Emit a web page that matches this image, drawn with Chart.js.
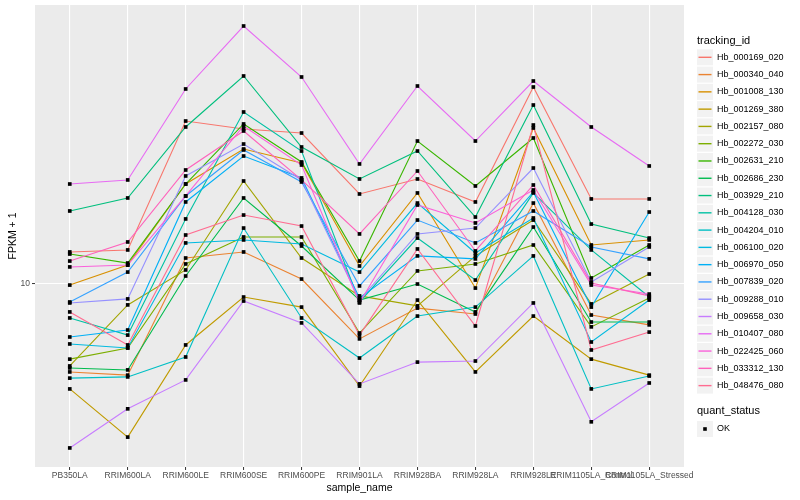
<!DOCTYPE html>
<html>
<head>
<meta charset="utf-8">
<script src="https://cdn.jsdelivr.net/npm/chart.js@4.4.0/dist/chart.umd.min.js"></script>
<style>
  html, body { margin: 0; padding: 0; background: #ffffff; }
  #wrap { width: 800px; height: 500px; }
</style>
</head>
<body>
<div id="wrap"><canvas id="chart" width="800" height="500"></canvas></div>
<script>
// categories and labels
const sampleNames = ['PB350LA', 'RRIM600LA', 'RRIM600LE', 'RRIM600SE', 'RRIM600PE', 'RRIM901LA',
  'RRIM928BA', 'RRIM928LA', 'RRIM928LE', 'RRIM1105LA_Control', 'RRIM1105LA_Stressed'];
const trackingIds = ['Hb_000169_020', 'Hb_000340_040', 'Hb_001008_130', 'Hb_001269_380', 'Hb_002157_080',
  'Hb_002272_030', 'Hb_002631_210', 'Hb_002686_230', 'Hb_003929_210', 'Hb_004128_030', 'Hb_004204_010',
  'Hb_006100_020', 'Hb_006970_050', 'Hb_007839_020', 'Hb_009288_010', 'Hb_009658_030', 'Hb_010407_080',
  'Hb_022425_060', 'Hb_033312_130', 'Hb_048476_080'];
const yTicks = [10];
const quantStatus = ['OK'];

// FPKM + 1 per sample, one array per gene
const hb_000169_020 = [11.99, 12.13, 25.48, 24.34, 23.78, 16.74, 18.25, 15.99, 30.99, 16.27, 16.27];
const hb_000340_040 = [6.01, 5.90, 11.58, 11.99, 10.26, 7.27, 8.68, 8.39, 15.89, 8.34, 7.88];
const hb_001008_130 = [9.91, 11.12, 17.73, 21.69, 20.01, 11.06, 16.84, 9.74, 24.48, 12.48, 12.85];
const hb_001269_380 = [5.45, 4.13, 7.02, 9.25, 8.73, 5.54, 9.09, 6.01, 8.29, 6.47, 5.90];
const hb_002157_080 = [6.22, 8.84, 10.81, 18.04, 11.58, 9.31, 8.79, 11.72, 14.41, 8.89, 10.56];
const hb_002272_030 = [6.47, 6.90, 11.19, 13.07, 13.07, 7.52, 10.75, 11.19, 12.48, 7.79, 9.20];
const hb_002631_210 = [11.85, 11.25, 17.73, 25.05, 20.13, 11.38, 22.71, 17.53, 23.11, 10.32, 12.48];
const hb_002686_230 = [6.15, 6.08, 10.44, 16.36, 12.41, 9.09, 9.97, 8.49, 13.84, 8.01, 8.01];
const hb_003929_210 = [15.18, 16.36, 24.62, 33.02, 21.94, 18.25, 21.44, 14.66, 27.94, 14.08, 12.99];
const hb_004128_030 = [8.20, 7.43, 14.50, 26.84, 21.44, 8.99, 12.99, 10.20, 16.84, 12.13, 9.25];
const hb_004204_010 = [5.80, 5.84, 6.55, 13.76, 8.20, 6.51, 8.29, 8.73, 11.72, 5.45, 5.87];
const hb_006100_020 = [7.06, 6.90, 12.63, 12.85, 12.55, 10.68, 15.89, 11.92, 14.58, 7.14, 9.09];
const hb_006970_050 = [7.35, 7.65, 15.99, 20.83, 18.36, 9.20, 11.72, 11.52, 16.94, 8.73, 15.09];
const hb_007839_020 = [8.99, 10.68, 16.55, 21.57, 17.94, 9.86, 14.41, 12.63, 15.18, 12.34, 11.52];
const hb_009288_010 = [8.94, 9.15, 18.57, 22.32, 18.15, 9.09, 13.30, 13.76, 19.44, 10.09, 12.34];
const hb_009658_030 = [3.88, 4.86, 5.74, 9.04, 7.97, 5.61, 6.36, 6.40, 8.94, 4.51, 5.64];
const hb_010407_080 = [17.73, 18.15, 30.64, 44.03, 32.83, 19.90, 31.17, 22.71, 32.08, 24.62, 19.67];
const hb_022425_060 = [11.00, 11.12, 16.55, 24.76, 19.78, 8.94, 15.71, 14.17, 17.13, 9.91, 9.41];
const hb_033312_130 = [11.38, 12.70, 19.22, 24.06, 18.15, 13.30, 19.11, 12.06, 17.63, 10.03, 9.31];
const hb_048476_080 = [8.49, 7.02, 13.22, 14.83, 13.92, 7.43, 12.20, 7.83, 24.90, 6.82, 7.56];

const seriesValues = [hb_000169_020, hb_000340_040, hb_001008_130, hb_001269_380, hb_002157_080,
  hb_002272_030, hb_002631_210, hb_002686_230, hb_003929_210, hb_004128_030, hb_004204_010,
  hb_006100_020, hb_006970_050, hb_007839_020, hb_009288_010, hb_009658_030, hb_010407_080,
  hb_022425_060, hb_033312_130, hb_048476_080];

// ggplot hue palette for 20 levels
const palette = ['#F8766D', '#EA8331', '#D89000', '#C09B00', '#A3A500', '#7CAE00', '#39B600', '#00BB4E',
  '#00BF7D', '#00C1A3', '#00BFC4', '#00BAE0', '#00B0F6', '#35A2FF', '#9590FF', '#C77CFF', '#E76BF3',
  '#FA62DB', '#FF62BC', '#FF6C91'];

const textFont = "'Liberation Sans', Arial, sans-serif";

const datasets = seriesValues.map((vals, i) => ({
  type: 'line',
  label: trackingIds[i],
  data: vals.map((v, j) => ({ x: j, y: v })),
  borderColor: palette[i],
  borderWidth: 1.1,
  pointRadius: 0,
  fill: false,
  tension: 0,
  order: 20 - i
}));

// all points drawn on top, like geom_point after geom_line
datasets.push({
  type: 'scatter',
  label: quantStatus[0],
  data: seriesValues.flatMap(vals => vals.map((v, j) => ({ x: j, y: v }))),
  backgroundColor: '#000000',
  borderColor: '#000000',
  borderWidth: 0,
  pointStyle: 'rect',
  pointRadius: 2.6,
  showLine: false,
  order: 0
});

const panelPlugin = {
  id: 'panel',
  beforeDraw(chart) {
    const { ctx, chartArea } = chart;
    ctx.save();
    ctx.fillStyle = '#ffffff';
    ctx.fillRect(0, 0, chart.width, chart.height);
    ctx.fillStyle = '#EBEBEB';
    ctx.fillRect(chartArea.left, chartArea.top, chartArea.right - chartArea.left, chartArea.bottom - chartArea.top);
    ctx.restore();
  }
};

const axisTextPlugin = {
  id: 'axisText',
  afterDraw(chart) {
    const { ctx, chartArea } = chart;
    const xs = chart.scales.x, ys = chart.scales.y;
    ctx.save();
    ctx.textBaseline = 'middle';
    ctx.fillStyle = '#4D4D4D';
    ctx.font = '8.5px ' + textFont;
    ctx.textAlign = 'center';
    sampleNames.forEach((name, i) => ctx.fillText(name, xs.getPixelForValue(i), 476));
    ctx.textAlign = 'right';
    yTicks.forEach(v => ctx.fillText(String(v), 30, ys.getPixelForValue(v)));
    ctx.fillStyle = '#000000';
    ctx.font = '10.5px ' + textFont;
    ctx.textAlign = 'center';
    ctx.fillText('sample_name', (chartArea.left + chartArea.right) / 2, 488);
    ctx.translate(13, (chartArea.top + chartArea.bottom) / 2);
    ctx.rotate(-Math.PI / 2);
    ctx.fillText('FPKM + 1', 0, 0);
    ctx.restore();
  }
};

const legendPlugin = {
  id: 'ggLegend',
  afterDraw(chart) {
    const ctx = chart.ctx;
    ctx.save();
    ctx.textBaseline = 'middle';
    ctx.textAlign = 'left';
    ctx.fillStyle = '#000000';
    ctx.font = '11px ' + textFont;
    ctx.fillText('tracking_id', 697, 41);
    ctx.font = '9px ' + textFont;
    trackingIds.forEach((id, i) => {
      const cy = 57.3 + i * 17.28;
      ctx.fillStyle = '#F2F2F2';
      ctx.fillRect(697, cy - 8, 16, 16);
      ctx.strokeStyle = palette[i];
      ctx.lineWidth = 1.4;
      ctx.beginPath();
      ctx.moveTo(698.5, cy);
      ctx.lineTo(711.5, cy);
      ctx.stroke();
      ctx.fillStyle = '#000000';
      ctx.fillText(id, 717, cy);
    });
    ctx.font = '11px ' + textFont;
    ctx.fillText('quant_status', 697, 411);
    const ky = 429;
    ctx.fillStyle = '#F2F2F2';
    ctx.fillRect(697, ky - 8, 16, 16);
    ctx.fillStyle = '#000000';
    ctx.fillRect(703.2, ky - 1.8, 3.6, 3.6);
    ctx.font = '9px ' + textFont;
    ctx.fillText(quantStatus[0], 717, ky);
    ctx.restore();
  }
};

new Chart(document.getElementById('chart'), {
  type: 'line',
  data: { datasets: datasets },
  options: {
    responsive: false,
    devicePixelRatio: 1,
    animation: false,
    layout: { padding: { left: 0, right: 116, top: 5, bottom: 0 } },
    plugins: { legend: { display: false }, tooltip: { enabled: false } },
    scales: {
      x: {
        type: 'linear',
        min: -0.6,
        max: 10.6,
        afterFit(scale) { scale.height = 33; },
        afterBuildTicks(scale) { scale.ticks = sampleNames.map((n, i) => ({ value: i })); },
        ticks: { display: false },
        grid: { color: '#ffffff', lineWidth: 1.1, tickLength: 3, tickColor: '#333333', tickWidth: 1 },
        border: { display: false }
      },
      y: {
        type: 'logarithmic',
        min: 3.477,
        max: 49.69,
        afterFit(scale) { scale.width = 35; },
        afterBuildTicks(scale) { scale.ticks = yTicks.map(v => ({ value: v })); },
        ticks: { display: false },
        grid: { color: '#ffffff', lineWidth: 1.1, tickLength: 3, tickColor: '#333333', tickWidth: 1 },
        border: { display: false }
      }
    }
  },
  plugins: [panelPlugin, axisTextPlugin, legendPlugin]
});
</script>
</body>
</html>
